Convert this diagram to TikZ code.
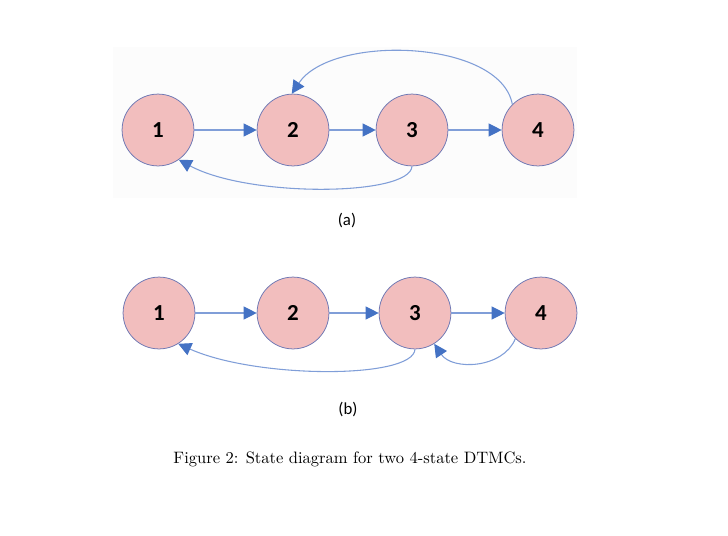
\documentclass[tikz,border=0pt]{standalone}
\usepackage{fontspec}
\newfontfamily\carlito{Carlito}
\usepackage{tikz}
\usetikzlibrary{arrows.meta}
\usetikzlibrary{positioning}

\definecolor{statefill}{RGB}{242,190,190}
\definecolor{statedraw}{RGB}{110,120,180}
\definecolor{linecol}{RGB}{128,158,216}
\definecolor{tipcol}{RGB}{68,114,196}

\tikzset{
    dtmcstate/.style={circle, draw=statedraw, fill=statefill, line width=0.5pt,
        minimum size=47pt, inner sep=0pt, font=\carlito\bfseries\fontsize{15}{18}\selectfont},
    trans/.style={draw=linecol, line width=0.7pt,
        -{Triangle[length=8.5pt, width=8.5pt, color=tipcol, fill=tipcol]}},
    sublabel/.style={font=\carlito\fontsize{11}{13}\selectfont},
}

\begin{document}
\begin{tikzpicture}[x=0.654pt, y=-0.654pt]
    \useasboundingbox (0,0) rectangle (728,535);
    \fill[gray!2.5] (113,47) rectangle (577,198);

    % (a)
    \node[dtmcstate] (a1) at (158,130) {1};
    \node[dtmcstate] (a2) at (293,130) {2};
    \node[dtmcstate] (a3) at (412,130) {3};
    \node[dtmcstate] (a4) at (538,130) {4};

    \draw[trans] (a1) -- (a2);
    \draw[trans] (a2) -- (a3);
    \draw[trans] (a3) -- (a4);
    \draw[trans] (a4.135) .. controls +(-12,-65) and +(40,-60) .. (a2.92);
    \draw[trans] (a3.270) .. controls +(-2,30) and +(70,38) .. (a1.305);

    \node[sublabel] (lbla) at (347,221) {(a)};

    % (b)
    \node[dtmcstate] (b1) at (159,313) {1};
    \node[dtmcstate] (b2) at (293,313) {2};
    \node[dtmcstate] (b3) at (415,313) {3};
    \node[dtmcstate] (b4) at (541,313) {4};

    \draw[trans] (b1) -- (b2);
    \draw[trans] (b2) -- (b3);
    \draw[trans] (b3) -- (b4);
    \draw[trans] (b3.270) .. controls +(-2,30) and +(78,35) .. (b1.302);
    \draw[trans] (b4.225) .. controls +(-12,30) and +(18,27) .. (b3.302);

    \node[sublabel] (lblb) at (348,410) {(b)};

    \node[font=\fontsize{10.8}{13}\selectfont] (caption) at (350,459)
        {Figure 2: State diagram for two 4-state DTMCs.};
\end{tikzpicture}
\end{document}
